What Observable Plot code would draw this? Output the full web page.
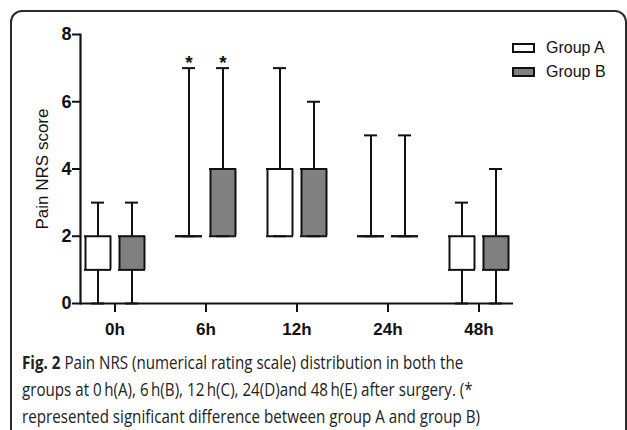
<!DOCTYPE html>
<html>
<head>
<meta charset="utf-8">
<script src="https://cdn.jsdelivr.net/npm/d3@7"></script>
<script src="https://cdn.jsdelivr.net/npm/@observablehq/plot@0.6"></script>
<style>
  body { margin: 0; background: #fff; }
  #wrap { position: relative; width: 627px; height: 430px; overflow: hidden; background: #fff; }
  #frame { position: absolute; left: 10px; top: 10px; width: 613px; height: 440px; border: 2px solid #2a2a2a; border-radius: 12px; box-sizing: content-box; }
  #chart { position: absolute; left: 0; top: 0; }
  #legend { position: absolute; left: 512px; top: 36px; font-family: "Liberation Sans", Arial, sans-serif; font-size: 16px; color: #111; }
  .item { display: flex; align-items: center; height: 24px; }
  .sw { width: 19px; height: 6px; border: 2px solid #111; margin-right: 11px; }
  #caption { position: absolute; left: 22px; top: 349px; font-family: "Open Sans", sans-serif; font-size: 18px; line-height: 27px; color: #222; white-space: nowrap; transform-origin: 0 0; }
  #caption b { font-weight: 700; }
</style>
</head>
<body>
<div id="wrap">
  <div id="frame"></div>
  <div id="chart"></div>
  <div id="legend"></div>
  <div id="caption"><b>Fig. 2</b> Pain NRS (numerical rating scale) distribution in both the<br>groups at 0&#8201;h(A), 6&#8201;h(B), 12&#8201;h(C), 24(D)and 48&#8201;h(E) after surgery. (*<br>represented significant difference between group A and group B)</div>
</div>
<script>
const times = ["0h", "6h", "12h", "24h", "48h"];
const groups = ["Group A", "Group B"];
const minA = [0, 2, 2, 2, 0];
const q1A  = [1, 2, 2, 2, 1];
const q3A  = [2, 2, 4, 2, 2];
const maxA = [3, 7, 7, 5, 3];
const minB = [0, 2, 2, 2, 0];
const q1B  = [1, 2, 2, 2, 1];
const q3B  = [2, 4, 4, 2, 2];
const maxB = [3, 7, 6, 5, 4];
const significant = ["6h"];
const yTicks = [0, 2, 4, 6, 8];

const stats = [
  {min: minA, q1: q1A, q3: q3A, max: maxA},
  {min: minB, q1: q1B, q3: q3B, max: maxB}
];
const fills = ["#ffffff", "#808080"];
const offsets = [-17, 17];
const ink = "#111";
const SW = 2;

const marks = [];
groups.forEach((g, gi) => {
  const s = stats[gi];
  const rows = times.map((t, i) => ({time: t, group: g, min: s.min[i], q1: s.q1[i], q3: s.q3[i], max: s.max[i]}));
  const dx = offsets[gi];
  marks.push(
    Plot.ruleX(rows, {x: "time", y1: "min", y2: "max", dx, stroke: ink, strokeWidth: SW}),
    Plot.barY(rows, {x: "time", y1: "q1", y2: "q3", dx, fill: fills[gi]}),
    Plot.ruleX(rows, {x: "time", y1: "q1", y2: "q3", dx: dx - 12.5, stroke: ink, strokeWidth: SW}),
    Plot.ruleX(rows, {x: "time", y1: "q1", y2: "q3", dx: dx + 12.5, stroke: ink, strokeWidth: SW}),
    Plot.tickY(rows, {x: "time", y: "q1", dx, stroke: ink, strokeWidth: SW, strokeLinecap: "square"}),
    Plot.tickY(rows, {x: "time", y: "q3", dx, stroke: ink, strokeWidth: SW, strokeLinecap: "square"}),
    Plot.tickY(rows, {x: "time", y: "max", dx, insetLeft: 6, insetRight: 6, stroke: ink, strokeWidth: SW}),
    Plot.tickY(rows, {x: "time", y: "min", dx, insetLeft: 6, insetRight: 6, stroke: ink, strokeWidth: SW}),
    Plot.text(rows.filter(d => significant.includes(d.time)), {x: "time", y: "max", text: () => "*", dx, dy: -5, fontSize: 19, fontWeight: "bold", fill: ink})
  );
});

const chart = Plot.plot({
  width: 627,
  height: 345,
  marginLeft: 80,
  marginRight: 114,
  marginTop: 34,
  marginBottom: 42,
  style: {fontFamily: "'Liberation Sans', Arial, sans-serif", fontSize: "16px", color: ink, background: "transparent"},
  x: {type: "band", domain: times, paddingInner: 0.726, paddingOuter: 0.24, label: null},
  y: {domain: [0, 8], label: null},
  marks: [
    ...marks,
    Plot.ruleY([0], {stroke: ink, strokeWidth: 2.2}),
    Plot.frame({anchor: "left", stroke: ink, strokeWidth: 2.2}),
    Plot.axisY({ticks: yTicks, tickSize: 8, tickPadding: 1, strokeWidth: 2, label: null, fontSize: 18, fontWeight: "bold", fill: ink}),
    Plot.axisX({tickSize: 9, tickPadding: 10, strokeWidth: 2, label: null, fontSize: 17, fontWeight: "bold", fill: ink}),
    Plot.text(["Pain NRS score"], {frameAnchor: "left", textAnchor: "middle", rotate: -90, dx: -38, fontSize: 17, fontWeight: "normal", fill: ink})
  ]
});
document.getElementById("chart").appendChild(chart);

const legend = document.getElementById("legend");
groups.forEach((g, gi) => {
  const item = document.createElement("div");
  item.className = "item";
  const sw = document.createElement("span");
  sw.className = "sw";
  sw.style.background = fills[gi];
  const lab = document.createElement("span");
  lab.textContent = g;
  item.appendChild(sw);
  item.appendChild(lab);
  legend.appendChild(item);
});

const cap = document.getElementById("caption");
const w = cap.getBoundingClientRect().width;
cap.style.transform = `scaleX(${458 / w})`;
</script>
</body>
</html>
